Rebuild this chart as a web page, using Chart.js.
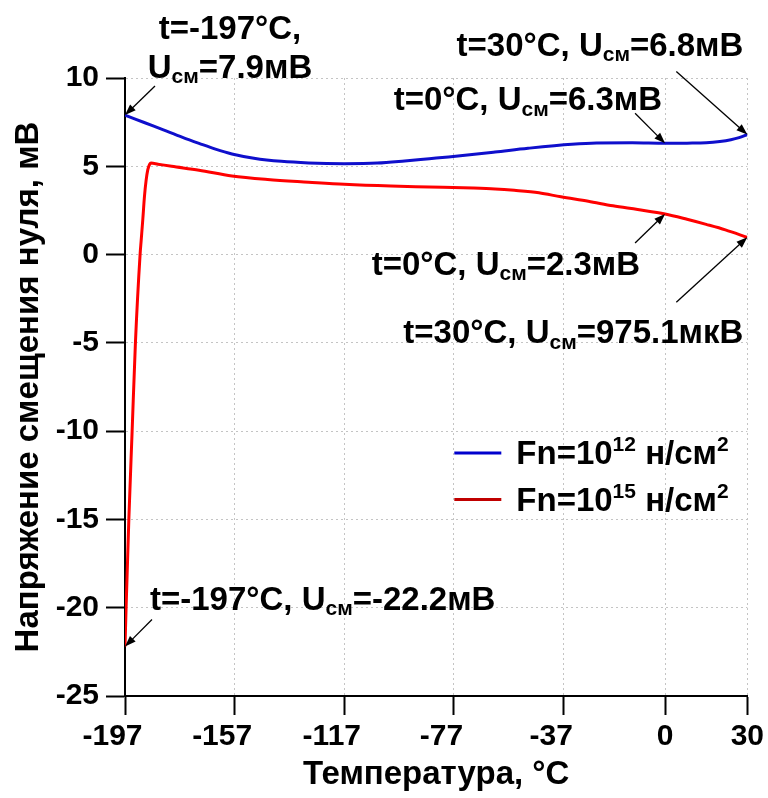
<!DOCTYPE html>
<html>
<head>
<meta charset="utf-8">
<script src="https://cdn.jsdelivr.net/npm/chart.js@4.4.1/dist/chart.umd.min.js"></script>
<style>
  html, body { margin: 0; padding: 0; background: #fff; }
</style>
</head>
<body>
<canvas id="chart" width="768" height="798"></canvas>
<script>
var FONT = '"Liberation Sans", Arial, sans-serif';

// Fn = 10^12 n/cm^2
var tempLow = [-197, -190, -183, -176, -170, -164, -158, -150, -140, -130, -117, -105, -95, -86, -79, -62, -50, -34, -25, -12, 0, 8, 15, 20, 24, 27, 30];
var uLow = [7.9, 7.48, 7.06, 6.64, 6.3, 5.97, 5.7, 5.46, 5.28, 5.19, 5.15, 5.18, 5.3, 5.43, 5.53, 5.81, 6.02, 6.25, 6.32, 6.33, 6.3, 6.31, 6.33, 6.4, 6.5, 6.62, 6.8];

// Fn = 10^15 n/cm^2
var tempHigh = [-197, -196.6, -195.6, -194.4, -193.2, -191.5, -191.1, -190.5, -189.9, -189.3, -188.7, -188, -187.5, -185, -180, -170, -158, -145, -130, -117, -100, -86, -70, -62, -55, -46, -38, -28, -19, -10, 0, 8, 15, 22, 30];
var uHigh = [-22.2, -20, -15, -10, -5, 0, 0.8, 2.0, 3.3, 4.2, 4.8, 5.12, 5.18, 5.12, 5.0, 4.78, 4.45, 4.25, 4.1, 3.98, 3.88, 3.83, 3.77, 3.72, 3.64, 3.5, 3.27, 3.02, 2.76, 2.55, 2.3, 2.0, 1.71, 1.4, 0.9751];

var xTicks = [-197, -157, -117, -77, -37, 0, 30];
var seriesNames = ['Fn=10^{12} н/см^{2}', 'Fn=10^{15} н/см^{2}'];

// labelled points: temperature, voltage (mV)
var annoTemp = [-197, 30, 0, 0, 30, -197];
var annoVolt = [7.9, 6.8, 6.3, 2.3, 0.9751, -22.2];

// where each label and arrow tail sits relative to its point (px)
var annoLayout = [
  { align: 'center', dx: 105, dy: [-76, -37], tail: [30, -29], twoLines: true },
  { align: 'right', dx: -4, dy: [-79], tail: [-71, -63] },
  { align: 'right', dx: -3, dy: [-33], tail: [-30, -30] },
  { align: 'right', dx: -25, dy: [61], tail: [-30, 29] },
  { align: 'right', dx: -4, dy: [106], tail: [-71, 65] },
  { align: 'left', dx: 25, dy: [-37], tail: [27, -27] }
];

function fmtU(v) {
  if (Math.abs(v) < 1) return (v * 1000).toFixed(1) + 'мкВ';
  return v.toFixed(1) + 'мВ';
}

function pairs(xs, ys) {
  return xs.map(function (x, i) { return { x: x, y: ys[i] }; });
}

// splits "a_{b}c^{d}" into plain / sub / sup runs
function parseRich(str) {
  var parts = [], re = /([_^])\{([^}]*)\}/g, last = 0, m;
  while ((m = re.exec(str))) {
    if (m.index > last) parts.push({ t: str.slice(last, m.index), k: '' });
    parts.push({ t: m[2], k: m[1] });
    last = re.lastIndex;
  }
  if (last < str.length) parts.push({ t: str.slice(last), k: '' });
  return parts;
}

function drawRich(ctx, str, x, y, align, size) {
  var parts = parseRich(str);
  var small = Math.round(size * 0.64);
  var w = 0;
  parts.forEach(function (p) {
    ctx.font = 'bold ' + (p.k ? small : size) + 'px ' + FONT;
    p.w = ctx.measureText(p.t).width;
    w += p.w;
  });
  var cx = align === 'right' ? x - w : align === 'center' ? x - w / 2 : x;
  ctx.textAlign = 'left';
  ctx.textBaseline = 'alphabetic';
  ctx.fillStyle = '#000';
  parts.forEach(function (p) {
    ctx.font = 'bold ' + (p.k ? small : size) + 'px ' + FONT;
    var dy = p.k === '_' ? size * 0.16 : p.k === '^' ? -size * 0.39 : 0;
    ctx.fillText(p.t, cx, y + dy);
    cx += p.w;
  });
}

function drawArrow(ctx, x1, y1, x2, y2) {
  var a = Math.atan2(y2 - y1, x2 - x1), len = 11, hw = 4;
  ctx.save();
  ctx.strokeStyle = '#000';
  ctx.fillStyle = '#000';
  ctx.lineWidth = 1.3;
  ctx.beginPath();
  ctx.moveTo(x1, y1);
  ctx.lineTo(x2 - Math.cos(a) * len * 0.8, y2 - Math.sin(a) * len * 0.8);
  ctx.stroke();
  ctx.beginPath();
  ctx.moveTo(x2, y2);
  ctx.lineTo(x2 - Math.cos(a) * len - Math.sin(a) * hw, y2 - Math.sin(a) * len + Math.cos(a) * hw);
  ctx.lineTo(x2 - Math.cos(a) * len + Math.sin(a) * hw, y2 - Math.sin(a) * len - Math.cos(a) * hw);
  ctx.closePath();
  ctx.fill();
  ctx.restore();
}

var overlay = {
  id: 'overlay',
  afterDraw: function (c) {
    var ctx = c.ctx, xs = c.scales.x, ys = c.scales.y, area = c.chartArea;
    ctx.save();
    // point labels with arrows
    annoTemp.forEach(function (t, i) {
      var L = annoLayout[i];
      var px = xs.getPixelForValue(t), py = ys.getPixelForValue(annoVolt[i]);
      var head = 't=' + t + '°C,';
      var body = 'U_{см}=' + fmtU(annoVolt[i]);
      if (L.twoLines) {
        drawRich(ctx, head, px + L.dx, py + L.dy[0], L.align, 33);
        drawRich(ctx, body, px + L.dx, py + L.dy[1], L.align, 33);
      } else {
        drawRich(ctx, head + ' ' + body, px + L.dx, py + L.dy[0], L.align, 33);
      }
      drawArrow(ctx, px + L.tail[0], py + L.tail[1], px, py);
    });
    // legend
    var legendColors = ['#0000cd', '#c00000'];
    var lx = area.right - 293, ly = area.top + 375;
    seriesNames.forEach(function (name, i) {
      var y = ly + i * 46.5;
      ctx.strokeStyle = legendColors[i];
      ctx.lineWidth = 3;
      ctx.beginPath();
      ctx.moveTo(lx, y);
      ctx.lineTo(lx + 47, y);
      ctx.stroke();
      drawRich(ctx, name, lx + 62, y + 11, 'left', 33);
    });
    ctx.restore();
  }
};

Chart.defaults.font.family = FONT;
Chart.defaults.color = '#000';

new Chart(document.getElementById('chart'), {
  type: 'line',
  data: {
    datasets: [{
      label: seriesNames[0],
      data: pairs(tempLow, uLow),
      borderColor: '#0f0fcc',
      borderWidth: 3,
      pointRadius: 0,
      cubicInterpolationMode: 'monotone',
      fill: false
    }, {
      label: seriesNames[1],
      data: pairs(tempHigh, uHigh),
      borderColor: '#ff0000',
      borderWidth: 3,
      pointRadius: 0,
      cubicInterpolationMode: 'monotone',
      fill: false
    }]
  },
  options: {
    responsive: false,
    animation: false,
    devicePixelRatio: 1,
    layout: { padding: { top: 78, right: 19, left: 0, bottom: 0 } },
    plugins: {
      legend: { display: false },
      tooltip: { enabled: false }
    },
    scales: {
      x: {
        type: 'linear',
        min: -197,
        max: 30,
        afterBuildTicks: function (s) {
          s.ticks = xTicks.map(function (v) { return { value: v }; });
        },
        afterFit: function (s) { s.height = 102; },
        ticks: {
          autoSkip: false,
          maxRotation: 0,
          padding: 4,
          font: { size: 30, weight: 'bold' },
          color: '#000',
          // negative labels sit a little left of their tick
          callback: function (v) { return v < 0 ? v + '   ' : String(v); }
        },
        grid: {
          color: '#c4c4c4',
          lineWidth: 1,
          tickColor: '#000',
          tickLength: 19,
          tickWidth: 2
        },
        border: { display: true, color: '#000', width: 2, dash: [2, 3] },
        title: {
          display: true,
          text: 'Температура, °C',
          font: { size: 33, weight: 'bold' },
          color: '#000',
          padding: { top: 0, bottom: 3 }
        }
      },
      y: {
        min: -25,
        max: 10,
        afterFit: function (s) { s.width = 125; },
        ticks: {
          stepSize: 5,
          padding: 7,
          font: { size: 30, weight: 'bold' },
          color: '#000'
        },
        grid: {
          color: '#c4c4c4',
          lineWidth: 1,
          tickColor: '#000',
          tickLength: 19,
          tickWidth: 2
        },
        border: { display: true, color: '#000', width: 2, dash: [2, 3] },
        title: {
          display: true,
          text: 'Напряжение смещения нуля, мВ',
          font: { size: 33, weight: 'bold' },
          color: '#000',
          padding: { top: 9, bottom: 0 }
        }
      }
    }
  },
  plugins: [overlay]
});
</script>
</body>
</html>
